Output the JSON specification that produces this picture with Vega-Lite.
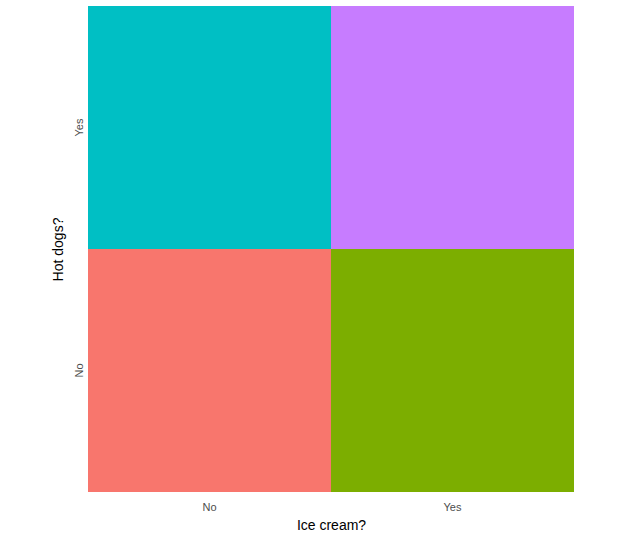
{
  "$schema": "https://vega.github.io/schema/vega-lite/v6.json",
  "width": 486,
  "height": 486,
  "autosize": {"type": "none"},
  "padding": {"left": 88, "top": 6, "right": 50, "bottom": 45},
  "background": "white",
  "config": {"view": {"stroke": null}},
  "data": {"values": [
    {"ice": "No", "hot": "No", "grp": "a"},
    {"ice": "Yes", "hot": "No", "grp": "b"},
    {"ice": "No", "hot": "Yes", "grp": "c"},
    {"ice": "Yes", "hot": "Yes", "grp": "d"}
  ]},
  "mark": {"type": "rect"},
  "encoding": {
    "x": {"field": "ice", "type": "nominal", "sort": ["No", "Yes"],
      "scale": {"paddingInner": 0, "paddingOuter": 0},
      "axis": {"title": "Ice cream?", "labelAngle": 0, "domain": false, "ticks": false, "labelPadding": 9, "labelFont": "Liberation Sans", "labelFontSize": 11, "labelColor": "#4D4D4D", "titleFont": "Liberation Sans", "titleFontSize": 14, "titleFontWeight": "normal", "titleColor": "black", "titlePadding": 6}},
    "y": {"field": "hot", "type": "nominal", "sort": ["Yes", "No"],
      "scale": {"paddingInner": 0, "paddingOuter": 0},
      "axis": {"title": "Hot dogs?", "labelAngle": -90, "labelAlign": "center", "labelBaseline": "bottom", "domain": false, "ticks": false, "labelPadding": 4, "labelFont": "Liberation Sans", "labelFontSize": 11, "labelColor": "#4D4D4D", "titleFont": "Liberation Sans", "titleFontSize": 14, "titleFontWeight": "normal", "titleColor": "black", "titlePadding": 8}},
    "color": {"field": "grp", "type": "nominal", "legend": null,
      "scale": {"domain": ["a", "b", "c", "d"], "range": ["#F8766D", "#7CAE00", "#00BFC4", "#C77CFF"]}}
  }
}
